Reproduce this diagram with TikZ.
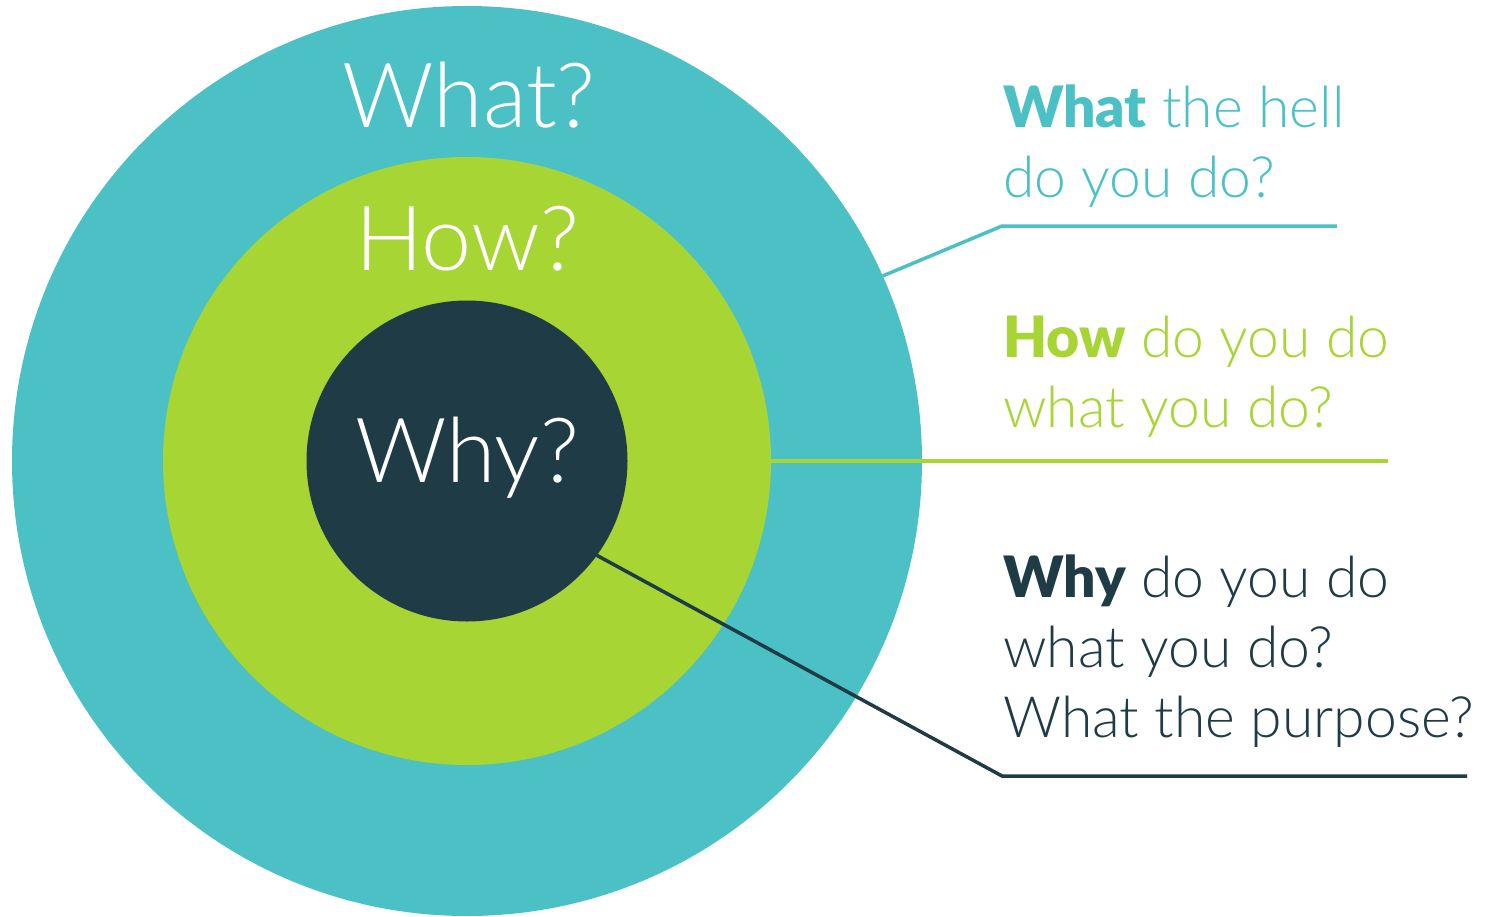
\documentclass[tikz,border=0pt]{standalone}
\usepackage{fontspec}
\setmainfont{Lato}[BoldFont={* Black}]
\newfontfamily\lightfont{Lato Light}
\usepackage{xcolor}
\usetikzlibrary{positioning}
\definecolor{whatcol}{HTML}{4BC1C6}
\definecolor{howcol}{HTML}{A7D533}
\definecolor{whycol}{HTML}{1F3B46}

\begin{document}
\begin{tikzpicture}[x=1pt, y=-1pt,
    ring/.style={circle, inner sep=0pt, outer sep=0pt},
    big/.style={text=white, font=\lightfont\fontsize{90}{100}\selectfont, inner sep=0pt},
    side/.style={anchor=base west, align=left, inner sep=0pt, font=\lightfont\fontsize{57}{70}\selectfont},
    lead/.style={line width=3.5pt}]
    \useasboundingbox (0,0) rectangle (1486,916);

    \node[ring, fill=whatcol, minimum size=910pt] (outer) at (467,461) {};
    \node[ring, fill=howcol, minimum size=608pt] (mid) at (467,461) {};
    \node[ring, fill=whycol, minimum size=321pt] (inner) at (467,461) {};

    \node[big, anchor=base] (whatlbl) at (469,127) {What?};
    \node[big, anchor=base] (howlbl) at (467,270) {How?};
    \node[big, anchor=base] (whylbl) at (467,482) {Why?};

    % base anchor sits on the last line
    \node[side, text=whatcol] (whattxt) at (1003,197) {{\rmfamily\bfseries What} the hell\\do you do?};
    \node[side, text=howcol] (howtxt) at (1003,427) {{\rmfamily\bfseries How} do you do\\what you do?};
    \node[side, text=whycol] (whytxt) at (1003,737) {{\rmfamily\bfseries Why} do you do\\what you do?\\What the purpose?};

    \coordinate (whatbend) at (1002,226);
    \coordinate (whatend) at (1337,226);
    \coordinate (howend) at (1388,461);
    \coordinate (whybend) at (1002,776);
    \coordinate (whyend) at (1467,776);

    \draw[lead, whatcol] (outer.24) -- (whatbend) -- (whatend);
    \draw[lead, howcol] (mid.0) -- (howend);
    \draw[lead, whycol] (inner.-36) -- (whybend) -- (whyend);
\end{tikzpicture}
\end{document}
